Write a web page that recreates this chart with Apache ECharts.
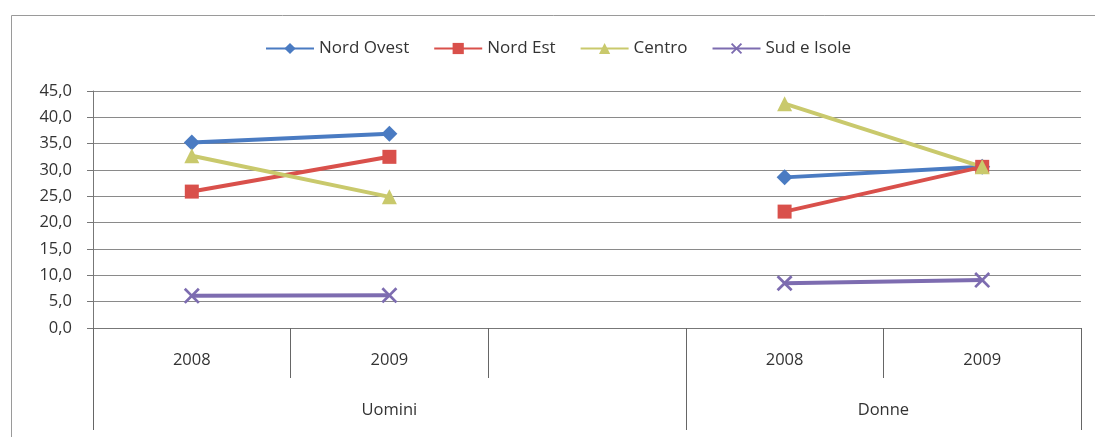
<!DOCTYPE html>
<html>
<head>
<meta charset="utf-8">
<script src="https://cdn.jsdelivr.net/npm/echarts@6/dist/echarts.min.js"></script>
<style>html,body{margin:0;padding:0;background:#fff}#c{width:1095px;height:437px}</style>
</head>
<body>
<div id="c"></div>
<script>
const categories = ['2008', '2009', '', '2008', '2009'];
const groupLabels = ['Uomini', 'Donne'];
const groupSpans = [3, 2];
const nordOvest = [35.2, 36.9, null, 28.6, 30.6];
const nordEst = [25.9, 32.5, null, 22.1, 30.6];
const centro = [32.7, 24.9, null, 42.6, 30.6];
const sudIsole = [6.1, 6.2, null, 8.5, 9.1];
const yTicks = { min: 0, max: 45, interval: 5 };

const FONT = 'Open Sans';
const groupTickValues = [0];
const groupLabelValues = [];
let acc = 0;
groupSpans.forEach(s => { groupLabelValues.push(acc + s / 2); acc += s; groupTickValues.push(acc); });

const crossPath = 'path://M0,1.2 L1.2,0 L5,3.8 L8.8,0 L10,1.2 L6.2,5 L10,8.8 L8.8,10 L5,6.2 L1.2,10 L0,8.8 L3.8,5 Z';

function mk(name, data, color, symbol, size) {
  return {
    name, type: 'line', data, xAxisIndex: 0,
    symbol, symbolSize: size,
    lineStyle: { color, width: 4 },
    itemStyle: { color },
    connectNulls: false,
    animation: false
  };
}

const chart = echarts.init(document.getElementById('c'));
chart.setOption({
  animation: false,
  textStyle: { fontFamily: FONT },
  graphic: [{
    type: 'rect', shape: { x: 11.5, y: 15.5, width: 1100, height: 440 },
    style: { fill: 'none', stroke: '#9a9a9a', lineWidth: 1 }, silent: true
  }],
  legend: {
    left: 260, top: 35,
    itemWidth: 48, itemHeight: 14, itemGap: 24,
    textStyle: { fontFamily: FONT, fontSize: 17, color: '#333' },
    data: ['Nord Ovest', 'Nord Est', 'Centro', 'Sud e Isole']
  },
  grid: { left: 93, right: 14, top: 91, bottom: 109 },
  xAxis: [{
    type: 'category', data: categories, boundaryGap: true,
    axisLine: { show: true, lineStyle: { color: '#777', width: 1 } },
    axisTick: { show: true, interval: 0, length: 50, lineStyle: { color: '#666' } },
    axisLabel: { interval: 0, margin: 24, fontSize: 16.5, color: '#333', fontFamily: FONT },
    splitLine: { show: false }
  }, {
    type: 'value', min: 0, max: categories.length, position: 'bottom',
    axisLine: { show: false },
    splitLine: { show: false },
    axisTick: { show: true, customValues: groupTickValues, length: 102, lineStyle: { color: '#666' } },
    axisLabel: {
      customValues: groupLabelValues, margin: 74, fontSize: 16.5, color: '#333', fontFamily: FONT,
      formatter: v => groupLabels[groupLabelValues.indexOf(v)]
    }
  }],
  yAxis: {
    type: 'value', min: yTicks.min, max: yTicks.max, interval: yTicks.interval,
    axisLine: { show: true, lineStyle: { color: '#777' } },
    axisTick: { show: true, length: 6, lineStyle: { color: '#777' } },
    axisLabel: { margin: 21, fontSize: 16.5, color: '#333', fontFamily: FONT,
      formatter: v => v.toFixed(1).replace('.', ',') },
    splitLine: { show: true, lineStyle: { color: '#8a8a8a', width: 1 } }
  },
  series: [
    mk('Nord Ovest', nordOvest, '#4a7bc2', 'diamond', 16),
    mk('Nord Est', nordEst, '#d9504b', 'rect', 14),
    mk('Centro', centro, '#c9c96c', 'triangle', 15),
    mk('Sud e Isole', sudIsole, '#7d6cb0', crossPath, 16)
  ]
});
</script>
</body>
</html>
